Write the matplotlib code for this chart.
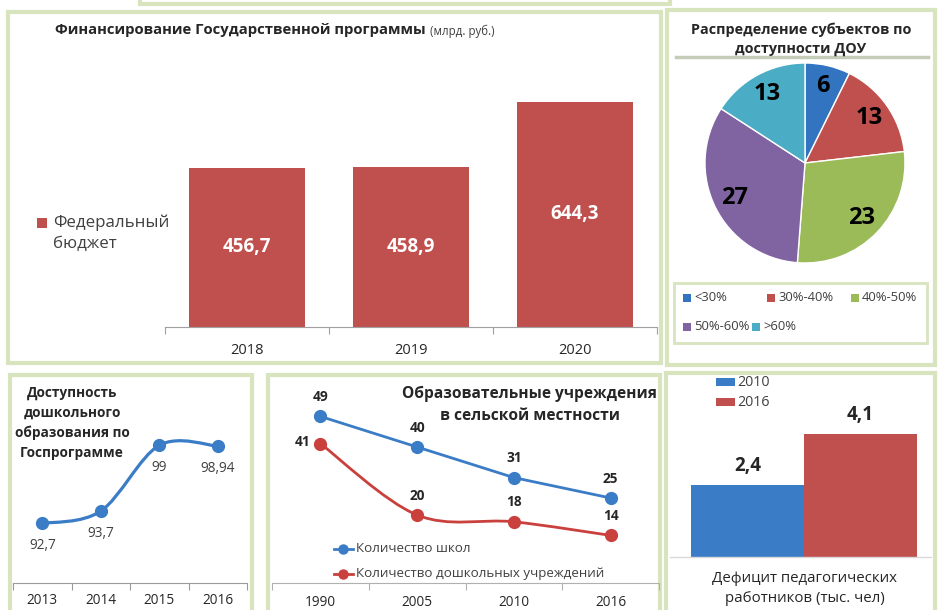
import matplotlib
matplotlib.use('Agg')
import matplotlib.pyplot as plt
from matplotlib.patches import Rectangle, PathPatch
from matplotlib.path import Path
from matplotlib.lines import Line2D

plt.rcParams['font.family'] = ['Open Sans', 'DejaVu Sans']

# ---- data ----
fund_years = ['2018', '2019', '2020']
fund_values = [456.7, 458.9, 644.3]
fund_label = 'Федеральный\nбюджет'

pie_labels = ['<30%', '30%-40%', '40%-50%', '50%-60%', '>60%']
pie_values = [6, 13, 23, 27, 13]

access_years = ['2013', '2014', '2015', '2016']
access_values = [92.7, 93.7, 99, 98.94]

rural_years = ['1990', '2005', '2010', '2016']
schools = [49, 40, 31, 25]
preschools = [41, 20, 18, 14]

deficit_years = ['2010', '2016']
deficit_values = [2.4, 4.1]

W, H = 939, 610
BORDER = '#d7e4bd'
DARK = '#262626'
GREY = '#404040'
BLUE = '#3a7cc6'
RED = '#c0504d'
LRED = '#c9403d'
PIE_COLORS = ['#3274c0', '#c0504d', '#9bbb59', '#8064a2', '#4bacc6']


def fx(px):
    return px / W


def fy(py):
    return 1 - py / H


def add_ax(x0, y0, x1, y1):
    ax = fig.add_axes([x0 / W, 1 - y1 / H, (x1 - x0) / W, (y1 - y0) / H])
    ax.patch.set_visible(False)
    return ax


def panel(x0, y0, x1, y1, lw=3):
    r = Rectangle((x0 / W, 1 - y1 / H), (x1 - x0) / W, (y1 - y0) / H,
                  transform=fig.transFigure, fc='white', ec=BORDER, lw=lw, zorder=-5)
    fig.add_artist(r)


def smooth_path(xs, ys):
    # bezier curve through the points, like a spreadsheet "smoothed line"
    pts = list(zip(xs, ys))
    verts = [pts[0]]
    codes = [Path.MOVETO]
    n = len(pts)
    for i in range(n - 1):
        p0 = pts[i - 1] if i > 0 else pts[i]
        p1 = pts[i]
        p2 = pts[i + 1]
        p3 = pts[i + 2] if i + 2 < n else pts[i + 1]
        c1 = (p1[0] + (p2[0] - p0[0]) / 6, p1[1] + (p2[1] - p0[1]) / 6)
        c2 = (p2[0] - (p3[0] - p1[0]) / 6, p2[1] - (p3[1] - p1[1]) / 6)
        verts += [c1, c2, p2]
        codes += [Path.CURVE4] * 3
    return Path(verts, codes)


def cat_axis(ax, n, color='#a6a6a6'):
    ax.set_xlim(-0.5, n - 0.5)
    for s in ['top', 'right', 'left']:
        ax.spines[s].set_visible(False)
    ax.spines['bottom'].set_color(color)
    ax.set_yticks([])
    ax.set_xticks([i - 0.5 for i in range(n + 1)])
    ax.set_xticklabels([])
    ax.tick_params(axis='x', length=5, color=color, direction='out')


fig = plt.figure(figsize=(W / 100, H / 100), dpi=100)
fig.patch.set_facecolor('white')

# panels
panel(140, -20, 670, 4)
panel(8, 12, 661, 363)
panel(667, 10, 935, 365)
panel(10, 375, 252, 640)
panel(268, 375, 660, 640)
panel(666, 373, 935, 640)

# ---- panel 1: funding bars ----
ax1 = add_ax(165, 60, 657, 327)
x1 = range(len(fund_years))
ax1.bar(x1, fund_values, width=0.71, color=RED)
ax1.set_ylim(0, 644.3 * 267 / 225)
cat_axis(ax1, len(fund_years), '#a0a0a0')
for i, (yr, v) in enumerate(zip(fund_years, fund_values)):
    ax1.text(i, v / 2, f'{v:.1f}'.replace('.', ','), ha='center', va='center',
             color='white', fontsize=13.5, fontweight='bold')
    ax1.text(i, -23 * 644.3 / 225, yr, ha='center', va='center', color=DARK, fontsize=10.5)

t1 = fig.text(fx(55), fy(30), 'Финансирование Государственной программы', ha='left',
              va='center', fontsize=10.7, fontweight='bold', color=DARK)
fig.canvas.draw()
bb = t1.get_window_extent()
fig.text(bb.x1 / W + 4 / W, fy(31), '(млрд. руб.)', ha='left', va='center',
         fontsize=8.3, color=GREY)

fig.add_artist(Rectangle((fx(37), fy(228)), 10 / W, 10 / H, transform=fig.transFigure,
                         fc=RED, ec='none'))
fig.text(fx(53), fy(233), fund_label, ha='left', va='center', fontsize=12.2,
         color=GREY, linespacing=1.4)

# ---- panel 2: pie ----
fig.text(fx(801), fy(30), 'Распределение субъектов по', ha='center', va='center',
         fontsize=10.4, fontweight='bold', color=DARK)
fig.text(fx(801), fy(49), 'доступности ДОУ', ha='center', va='center',
         fontsize=10.4, fontweight='bold', color=DARK)
fig.add_artist(Line2D([fx(676), fx(928)], [fy(57), fy(57)], transform=fig.transFigure,
                      color='#c5ccb8', lw=2.5))

ax2 = add_ax(705, 63, 905, 263)
wedges, texts = ax2.pie(pie_values, labels=[str(v) for v in pie_values], colors=PIE_COLORS,
                        startangle=90, counterclock=False, labeldistance=0.79,
                        wedgeprops=dict(edgecolor='white', linewidth=1),
                        textprops=dict(fontsize=17, fontweight='bold', color='black',
                                       ha='center', va='center'))
ax2.set_xlim(-1, 1)
ax2.set_ylim(-1, 1)
ax2.set_aspect('equal')

fig.add_artist(Rectangle((fx(674), fy(343)), 253 / W, 60 / H, transform=fig.transFigure,
                         fc='white', ec=BORDER, lw=2))
leg_pos = [(683, 298), (767, 298), (851, 298), (683, 327), (752, 327)]
for (lx, ly), lab, col in zip(leg_pos, pie_labels, PIE_COLORS):
    fig.add_artist(Rectangle((fx(lx), fy(ly + 4)), 8 / W, 8 / H,
                             transform=fig.transFigure, fc=col, ec='none'))
    fig.text(fx(lx + 11), fy(ly), lab, ha='left', va='center', fontsize=9.4, color=GREY)

# ---- panel 3: access line ----
ax3 = add_ax(13, 400, 247, 583)
xa = list(range(len(access_years)))
ax3.set_ylim(87.9, 87.9 + 183 / 12.4)
cat_axis(ax3, len(access_years), '#9a9a9a')
ax3.add_patch(PathPatch(smooth_path(xa, access_values), fill=False, ec=BLUE, lw=2.3))
ax3.plot(xa, access_values, 'o', color=BLUE, markersize=8.5)
for i, (yr, v) in enumerate(zip(access_years, access_values)):
    ax3.annotate(f'{v:g}'.replace('.', ','), (i, v), xytext=(0, -16),
                 textcoords='offset points', ha='center', va='center',
                 fontsize=9.8, color=GREY)
    ax3.text(i, 87.9 - 17 / 12.4, yr, ha='center', va='center', fontsize=9.8,
             color=DARK)
fig.text(fx(72), fy(423), 'Доступность\nдошкольного\nобразования по\nГоспрограмме',
         ha='center', va='center', fontsize=9.8, fontweight='bold', color=DARK,
         linespacing=1.5)

# ---- panel 4: rural institutions ----
ax4 = add_ax(272, 385, 659, 583)
xr = list(range(len(rural_years)))
ax4.set_ylim(0, 198 / 3.4)
cat_axis(ax4, len(rural_years), '#b0b0b0')
ax4.plot(xr, schools, '-o', color=BLUE, lw=2, markersize=8.5)
ax4.add_patch(PathPatch(smooth_path(xr, preschools), fill=False, ec=LRED, lw=2))
ax4.plot(xr, preschools, 'o', color=LRED, markersize=8.5)
for i, (yr, s, p) in enumerate(zip(rural_years, schools, preschools)):
    ax4.annotate(str(s), (i, s), xytext=(0, 14), textcoords='offset points',
                 ha='center', va='center', fontsize=9.8, fontweight='bold', color=DARK)
    off = (-13, 1) if i == 0 else (0, 14)
    ax4.annotate(str(p), (i, p), xytext=off, textcoords='offset points',
                 ha='center', va='center', fontsize=9.8, fontweight='bold', color=DARK)
    ax4.text(i, -20 / 3.4, yr, ha='center', va='center', fontsize=9.8, color=DARK)
fig.text(fx(530), fy(394), 'Образовательные учреждения', ha='center', va='center',
         fontsize=11.2, fontweight='bold', color=DARK)
fig.text(fx(530), fy(416), 'в сельской местности', ha='center', va='center',
         fontsize=11.2, fontweight='bold', color=DARK)
for ly, col, lab in [(549, BLUE, 'Количество школ'),
                     (574, LRED, 'Количество дошкольных учреждений')]:
    fig.add_artist(Line2D([fx(334), fx(353)], [fy(ly), fy(ly)], transform=fig.transFigure,
                          color=col, lw=2))
    fig.add_artist(Line2D([fx(343)], [fy(ly)], transform=fig.transFigure,
                          color=col, marker='o', markersize=6.5))
    fig.text(fx(356), fy(ly), lab, ha='left', va='center', fontsize=9.6, color=GREY)

# ---- panel 5: teacher deficit ----
ax5 = add_ax(691, 375, 917, 557)
ax5.bar([0, 1], deficit_values, width=1, color=[BLUE, RED])
ax5.set_xlim(-0.5, 1.5)
ax5.set_ylim(0, 182 / 30)
ax5.axis('off')
for i, v in enumerate(deficit_values):
    ax5.annotate(f'{v:.1f}'.replace('.', ','), (i, v), xytext=(0, 14),
                 textcoords='offset points', ha='center', va='center',
                 fontsize=13.5, fontweight='bold', color=DARK)
fig.add_artist(Line2D([fx(670), fx(931)], [fy(557), fy(557)], transform=fig.transFigure,
                      color='#d9d9d9', lw=1))
for k, (yr, col) in enumerate(zip(deficit_years, [BLUE, RED])):
    ly = 382 + 20 * k
    fig.add_artist(Rectangle((fx(716), fy(ly + 4)), 19 / W, 8 / H,
                             transform=fig.transFigure, fc=col, ec='none'))
    fig.text(fx(737), fy(ly), yr, ha='left', va='center', fontsize=10.3, color=GREY)
fig.text(fx(805), fy(578), 'Дефицит педагогических', ha='center', va='center',
         fontsize=10.8, color=DARK)
fig.text(fx(805), fy(598), 'работников (тыс. чел)', ha='center', va='center',
         fontsize=10.8, color=DARK)

fig.savefig('out.png', dpi=100, facecolor='white')
